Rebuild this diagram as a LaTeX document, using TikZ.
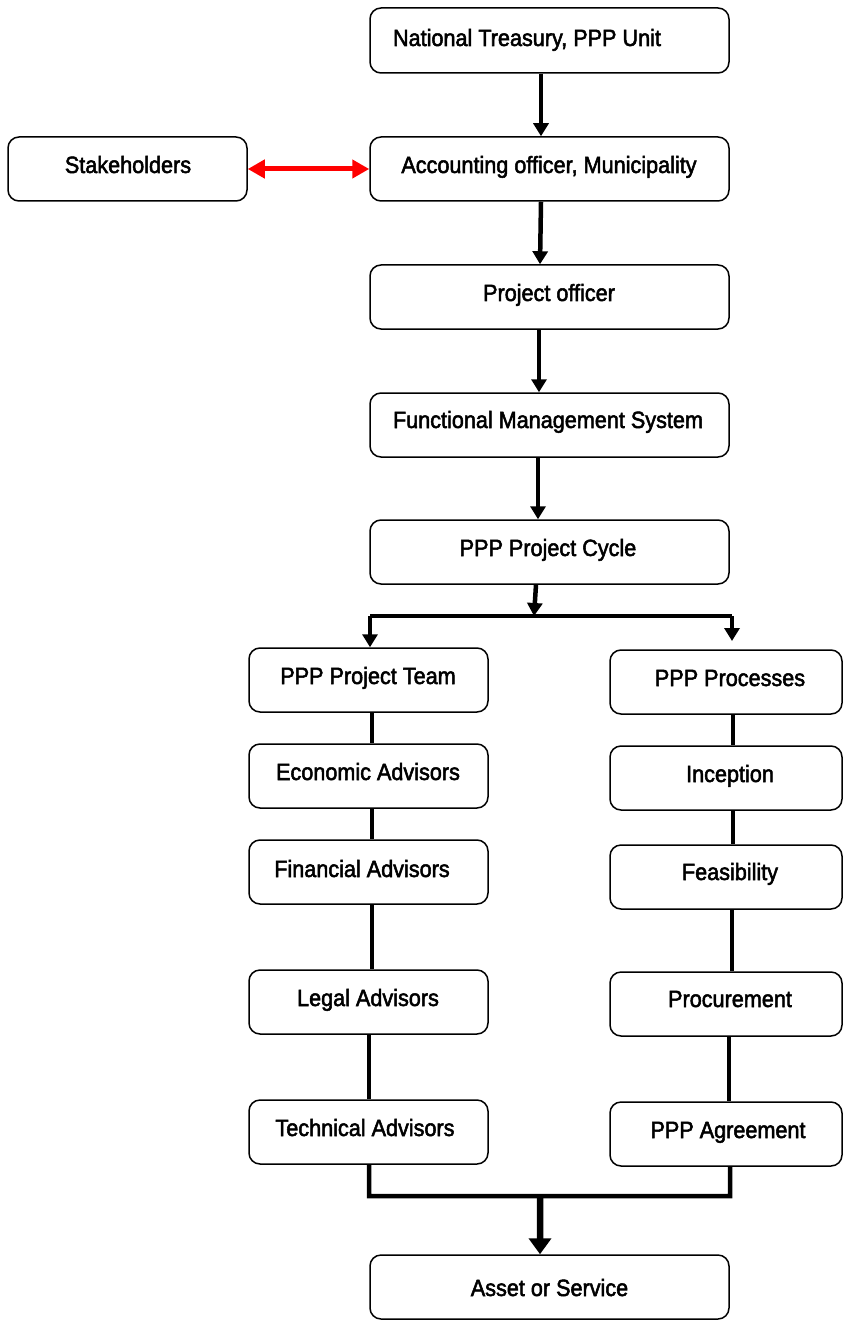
\documentclass[tikz,border=0pt]{standalone}
\usepackage{fontspec}
\setmainfont{Liberation Sans}[FakeStretch=0.92,FakeBold=2.2]
\usetikzlibrary{arrows.meta}
\tikzset{
  box/.style={draw, line width=1.5bp, rounded corners=11bp, inner sep=0pt},
  txt/.style={anchor=base, inner sep=0pt, font=\fontsize{23.5bp}{26bp}\selectfont},
  ln/.style={line width=4.5bp, black},
  arr/.style={line width=4.5bp, black, -{Triangle[width=15bp,length=13bp]}},
  bigarr/.style={line width=6.5bp, black, -{Triangle[width=22bp,length=16bp]}},
  redarr/.style={line width=5bp, red, {Triangle[width=18bp,length=17bp]}-{Triangle[width=18bp,length=17bp]}}
}
\newcommand{\bx}[8]{%
  \node[box, minimum width={(#4-#2)*1bp}, minimum height={(#5-#3)*1bp}] (#1) at ({(#2+#4)/2},{(#3+#5)/2}) {};
  \node[txt] (#1t) at (#6,#7) {#8};}
\begin{document}
\begin{tikzpicture}[x=1bp,y=-1bp]
\useasboundingbox (0,0) rectangle (842,1320);
\bx{nt}{370}{8}{729}{73}{527}{46}{National Treasury, PPP Unit}
\bx{st}{8}{137}{247}{201}{128}{173}{Stakeholders}
\bx{ao}{370}{137}{729}{201}{549}{173}{Accounting officer, Municipality}
\bx{po}{370}{265}{729}{329}{549}{301}{Project officer}
\bx{fm}{370}{393}{729}{457}{548}{428}{Functional Management System}
\bx{cy}{370}{520}{729}{584}{548}{556}{PPP Project Cycle}
\bx{tm}{249}{648}{488}{712}{368}{684}{PPP Project Team}
\bx{pr}{610}{650}{842}{714}{730}{686}{PPP Processes}
\bx{ec}{249}{744}{488}{808}{368}{780}{Economic Advisors}
\bx{in}{610}{746}{842}{810}{730}{782}{Inception}
\bx{fi}{249}{840}{488}{904}{362}{877}{Financial Advisors}
\bx{fe}{610}{845}{842}{909}{730}{880}{Feasibility}
\bx{le}{249}{970}{488}{1034}{368}{1006}{Legal Advisors}
\bx{pc}{610}{972}{842}{1036}{730}{1007}{Procurement}
\bx{te}{249}{1100}{488}{1164}{365}{1136}{Technical Advisors}
\bx{ag}{610}{1102}{842}{1166}{728}{1138}{PPP Agreement}
\bx{as}{370}{1255}{729}{1319}{549.5}{1296}{Asset or Service}
% top chain
\draw[arr] ([xshift=-8.5bp]nt.south) -- ([xshift=-8.5bp]ao.north);
\draw[arr] ([xshift=-8.5bp]ao.south) -- ([xshift=-9.5bp]po.north);
\draw[arr] ([xshift=-10.5bp]po.south) -- ([xshift=-10.5bp]fm.north);
\draw[arr] ([xshift=-11.5bp]fm.south) -- ([xshift=-11.5bp]cy.north);
\draw[redarr] (st.east) -- (ao.west);
% split
\coordinate (spM) at (534,616);
\coordinate (spL) at (370,616);
\coordinate (spR) at (732,616);
\coordinate (rEnd) at (732,641);
\draw[arr] ([xshift=-13.5bp]cy.south) -- (spM);
\draw[ln] (spL) -- (spR);
\draw[arr] (spL) -- ([xshift=1.5bp]tm.north);
\draw[arr] (spR) -- (rEnd);
% left column
\draw[ln] ([xshift=3.5bp]tm.south) -- ([xshift=3.5bp]ec.north);
\draw[ln] ([xshift=3.5bp]ec.south) -- ([xshift=3.5bp]fi.north);
\draw[ln] ([xshift=3.5bp]fi.south) -- ([xshift=3.5bp]le.north);
\draw[ln] ([xshift=0.5bp]le.south) -- ([xshift=0.5bp]te.north);
% right column
\draw[ln] ([xshift=7bp]pr.south) -- ([xshift=7bp]in.north);
\draw[ln] ([xshift=7bp]in.south) -- ([xshift=7bp]fe.north);
\draw[ln] ([xshift=6bp]fe.south) -- ([xshift=6bp]pc.north);
\draw[ln] ([xshift=3bp]pc.south) -- ([xshift=3bp]ag.north);
% join
\coordinate (jL) at (369,1196);
\coordinate (jR) at (730,1196);
\coordinate (jM) at (540,1196);
\draw[ln] ([xshift=0.5bp]te.south) -- (jL) -- (jR) -- ([xshift=4bp]ag.south);
\draw[bigarr] (jM) -- ([xshift=-9.5bp]as.north);
\end{tikzpicture}
\end{document}
